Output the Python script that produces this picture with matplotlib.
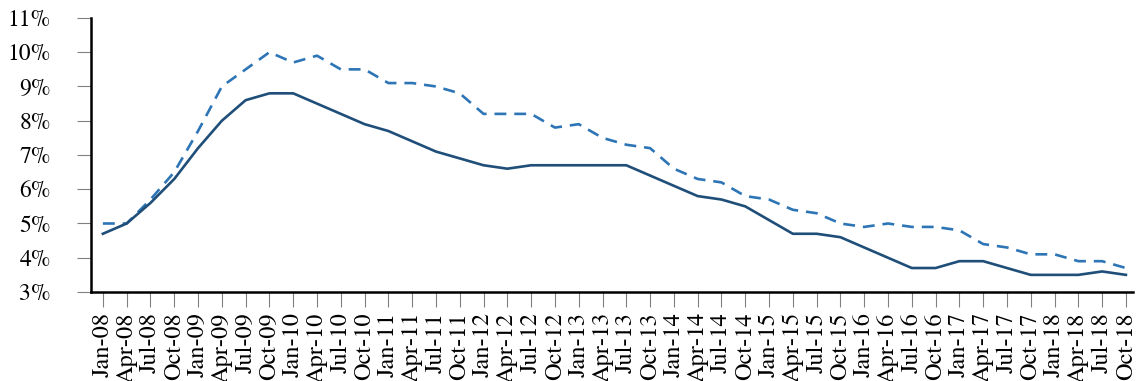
import matplotlib
matplotlib.use("Agg")
import matplotlib.pyplot as plt

# quarterly labels Jan-08 .. Oct-18
etiquetas = [f"{m}-{y:02d}" for y in range(8, 19) for m in ["Jan", "Apr", "Jul", "Oct"]]

serie_solida = [4.7, 5.0, 5.6, 6.3, 7.2, 8.0, 8.6, 8.8, 8.8, 8.5, 8.2, 7.9,
                7.7, 7.4, 7.1, 6.9, 6.7, 6.6, 6.7, 6.7, 6.7, 6.7, 6.7, 6.4,
                6.1, 5.8, 5.7, 5.5, 5.1, 4.7, 4.7, 4.6, 4.3, 4.0, 3.7, 3.7,
                3.9, 3.9, 3.7, 3.5, 3.5, 3.5, 3.6, 3.5]

serie_discontinua = [5.0, 5.0, 5.7, 6.5, 7.7, 9.0, 9.5, 10.0, 9.7, 9.9, 9.5, 9.5,
                     9.1, 9.1, 9.0, 8.8, 8.2, 8.2, 8.2, 7.8, 7.9, 7.5, 7.3, 7.2,
                     6.6, 6.3, 6.2, 5.8, 5.7, 5.4, 5.3, 5.0, 4.9, 5.0, 4.9, 4.9,
                     4.8, 4.4, 4.3, 4.1, 4.1, 3.9, 3.9, 3.7]

plt.rcParams['font.family'] = 'serif'
plt.rcParams['font.serif'] = ['TeX Gyre Termes', 'Liberation Serif', 'DejaVu Serif']

fig = plt.figure(figsize=(11.36, 3.81), dpi=100)
ax = fig.add_axes([0.0801, 0.2336, 0.9173, 0.7192])

x = list(range(len(etiquetas)))
ax.plot(x, serie_discontinua, color='#2e75b6', linewidth=1.9, dashes=(4.5, 3))
ax.plot(x, serie_solida, color='#1f4e79', linewidth=1.9)

ax.set_xlim(-0.5, 43.3)
ax.set_ylim(3, 11)
ax.set_yticks(range(3, 12))
ax.set_yticklabels([f"{v}%" for v in range(3, 12)])
ax.set_xticks(x)
ax.set_xticklabels(etiquetas, rotation=90)

for lado in ['top', 'right']:
    ax.spines[lado].set_visible(False)
for lado in ['left', 'bottom']:
    ax.spines[lado].set_linewidth(1.8)
    ax.spines[lado].set_color('black')

ax.tick_params(axis='y', length=10, width=0.8, color='#808080', pad=19, labelsize=17)
ax.tick_params(axis='x', length=10.5, width=0.8, color='#808080', pad=4, labelsize=17.5)

fig.savefig('out.png', dpi=100)
